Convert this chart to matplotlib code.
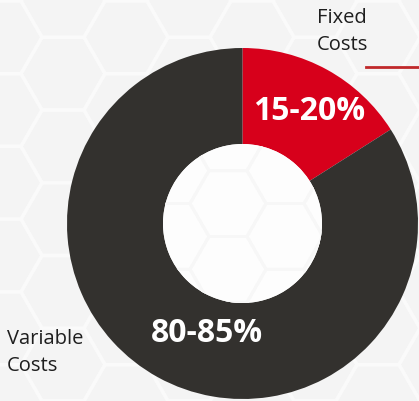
import matplotlib.pyplot as plt
from matplotlib.patches import RegularPolygon, Circle
import numpy as np

# cost split
labels = ["Fixed\nCosts", "Variable\nCosts"]
shares = [16, 84]
share_text = ["15-20%", "80-85%"]
colors = ["#d7001b", "#33312e"]

W, H = 419, 401
fig = plt.figure(figsize=(W / 100, H / 100), dpi=100)
fig.patch.set_facecolor("#f4f4f4")
ax = fig.add_axes([0, 0, 1, 1])
ax.set_xlim(0, W)
ax.set_ylim(0, H)
ax.set_aspect("equal")
ax.axis("off")

cx, cy = 242.5, H - 223.5
r_out, r_in = 175.5, 79.5


def hex_grid(ax, size, edge, lw, clip=None):
    dx = 1.5 * size
    dy = np.sqrt(3) * size
    for i in range(-1, int(W / dx) + 2):
        for j in range(-1, int(H / dy) + 2):
            x = i * dx
            y = j * dy + (dy / 2 if i % 2 else 0)
            h = RegularPolygon((x, y), 6, radius=size, orientation=np.pi / 6,
                               facecolor="none", edgecolor=edge, lw=lw, zorder=1)
            ax.add_patch(h)
            if clip is not None:
                h.set_clip_path(clip)
                h.set_zorder(4)


# faint honeycomb backdrop
hex_grid(ax, 42, "#fafafa", 2.5)

wedges, _ = ax.pie(shares, colors=colors, startangle=90, counterclock=False,
                   center=(cx, cy), radius=r_out,
                   wedgeprops=dict(width=r_out - r_in, linewidth=0))
for w in wedges:
    w.set_zorder(2)
ax.set_xlim(0, W)
ax.set_ylim(0, H)

hole = Circle((cx, cy), r_in, facecolor="#fdfdfd", edgecolor="none", zorder=3)
ax.add_patch(hole)
hex_grid(ax, 38, "#f7f7f7", 2.0, clip=hole)

# value labels on the ring
ax.text(309, H - 111, share_text[0], color="white", fontsize=23,
        fontweight="bold", family="Open Sans", ha="center", va="center", zorder=5)
ax.text(207, H - 334, share_text[1], color="white", fontsize=23,
        fontweight="bold", family="Open Sans", ha="center", va="center", zorder=5)

# category labels
ax.text(317, H - 8, labels[0], color="#1e1e1e", fontsize=14.5,
        family="Open Sans", ha="left", va="top", linespacing=1.45, zorder=5)
ax.text(7, H - 329, labels[1], color="#1e1e1e", fontsize=14.5,
        family="Open Sans", ha="left", va="top", linespacing=1.45, zorder=5)
ax.plot([366, W], [H - 67, H - 67], color="#c0282a", lw=2, zorder=5)

fig.savefig("out.png", dpi=100, facecolor=fig.get_facecolor())
